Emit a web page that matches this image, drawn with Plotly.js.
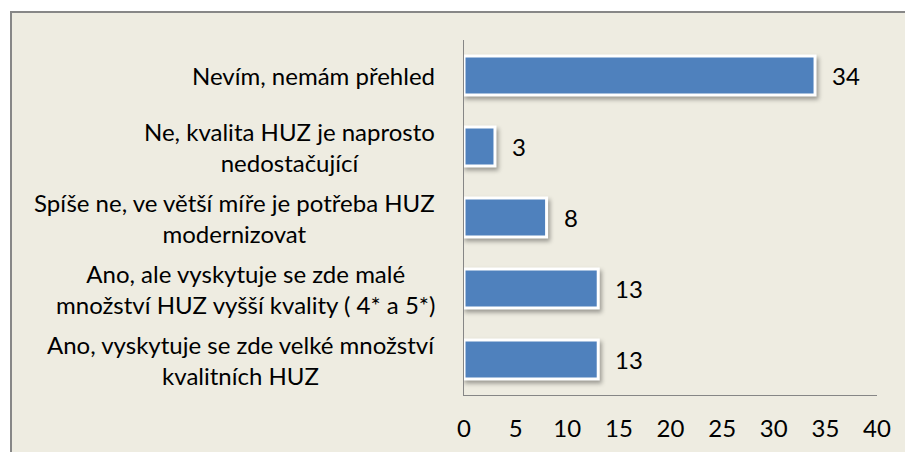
<!DOCTYPE html>
<html>
<head>
<meta charset="utf-8">
<script src="https://cdn.plot.ly/plotly-3.0.1.min.js"></script>
<style>
  html, body { margin: 0; padding: 0; background: #ffffff; width: 905px; height: 452px; overflow: hidden; }
  #frame { position: absolute; left: 10px; top: 11px; border-left: 2px solid #878787; border-top: 2px solid #878787; }
  #chart { width: 893px; height: 439px; }
  .barlayer .point path { filter: drop-shadow(2px 3px 2px rgba(0,0,0,0.35)); }
</style>
</head>
<body>
<div id="frame"><div id="chart"></div></div>
<script>
// Categories, top to bottom as in the chart
const categories = [
  "Nevím, nemám přehled",
  "Ne, kvalita HUZ je naprosto<br>nedostačující",
  "Spíše ne, ve větší míře je potřeba HUZ<br>modernizovat",
  "Ano, ale vyskytuje se zde malé<br>množství HUZ vyšší kvality ( 4* a 5*)",
  "Ano, vyskytuje se zde velké množství<br>kvalitních HUZ"
];
const values = [34, 3, 8, 13, 13];
const xTicks = [0, 5, 10, 15, 20, 25, 30, 35, 40];

const FONT = "Lato, 'Noto Sans', sans-serif";
const FS = 24;

const trace = {
  type: "bar",
  orientation: "h",
  y: categories,
  x: values,
  width: 0.55,
  marker: { color: "#4f81bd", line: { color: "#ffffff", width: 3 } },
  hoverinfo: "none"
};

const annotations = [];
categories.forEach((c, i) => {
  annotations.push({
    xref: "paper", yref: "y", x: 0, y: c, xanchor: "right", yanchor: "middle",
    xshift: -27, text: c, align: "center", showarrow: false,
    font: { family: FONT, size: FS, color: "#000000" }
  });
  annotations.push({
    xref: "x", yref: "y", x: values[i], y: c, xanchor: "left", yanchor: "middle",
    xshift: 15, text: String(values[i]), showarrow: false,
    font: { family: FONT, size: FS, color: "#000000" }
  });
});

const layout = {
  width: 893, height: 439,
  margin: { l: 452, r: 28, t: 27, b: 57 },
  paper_bgcolor: "#eeece1",
  plot_bgcolor: "#eeece1",
  showlegend: false,
  bargap: 0.45,
  xaxis: {
    range: [0, 40], tickvals: xTicks, ticktext: xTicks.map(String),
    showgrid: false, zeroline: false, showline: true, linecolor: "#868686", linewidth: 1,
    ticks: "", ticklabelstandoff: 12,
    tickfont: { family: FONT, size: FS, color: "#000000" }, fixedrange: true
  },
  yaxis: {
    type: "category", categoryorder: "array", categoryarray: categories,
    autorange: "reversed", showticklabels: false,
    showgrid: false, zeroline: false, showline: true, linecolor: "#868686", linewidth: 1,
    ticks: "", fixedrange: true
  },
  annotations: annotations
};

Plotly.newPlot("chart", [trace], layout, { displayModeBar: false, staticPlot: true });
</script>
</body>
</html>
